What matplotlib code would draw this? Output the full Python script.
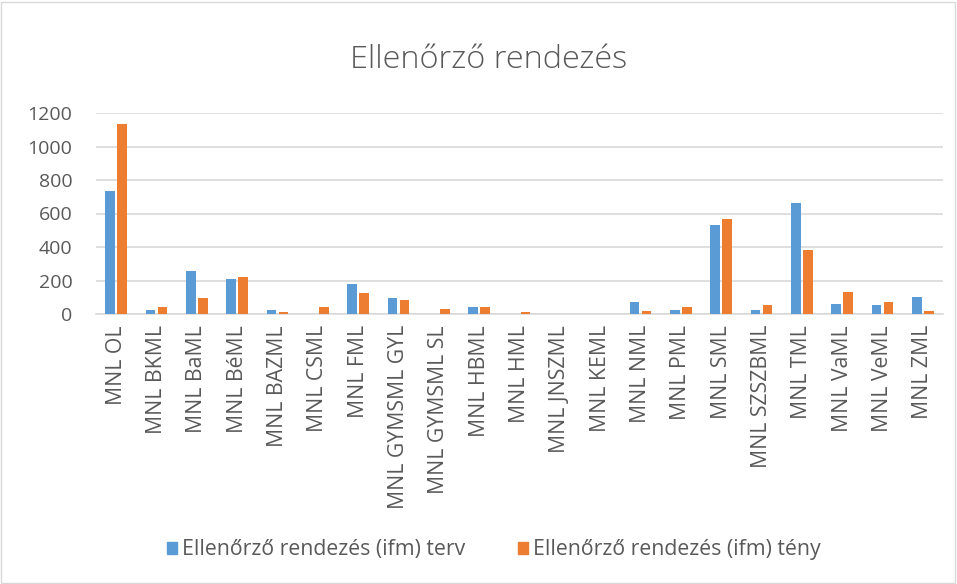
import matplotlib.pyplot as plt
import matplotlib.patches as mpatches
import numpy as np

plt.rcParams['font.family'] = ['Open Sans', 'DejaVu Sans']

kategoriak = ['MNL OL', 'MNL BKML', 'MNL BaML', 'MNL BéML', 'MNL BAZML', 'MNL CSML',
              'MNL FML', 'MNL GYMSML GYL', 'MNL GYMSML SL', 'MNL HBML', 'MNL HML',
              'MNL JNSZML', 'MNL KEML', 'MNL NML', 'MNL PML', 'MNL SML', 'MNL SZSZBML',
              'MNL TML', 'MNL VaML', 'MNL VeML', 'MNL ZML']
terv = [735, 24, 258, 210, 24, 0, 180, 96, 0, 42, 0, 0, 0, 72, 24, 534, 24, 660, 60, 54, 102]
teny = [1135, 42, 96, 222, 12, 42, 126, 84, 30, 42, 12, 0, 0, 18, 42, 570, 54, 384, 132, 72, 18]
y_ticks = [0, 200, 400, 600, 800, 1000, 1200]

KEK = '#5B9BD5'
NARANCS = '#ED7D31'
SZURKE = '#595959'

W, H = 957, 584
fig = plt.figure(figsize=(W / 100, H / 100), dpi=100)
ax = fig.add_axes([96 / W, (H - 314) / H, (943 - 96) / W, (314 - 113) / H])

x = np.arange(len(kategoriak))
ax.bar(x - 0.15, terv, width=0.235, color=KEK, zorder=3)
ax.bar(x + 0.15, teny, width=0.235, color=NARANCS, zorder=3)

ax.set_xlim(-0.5, len(kategoriak) - 0.5)
ax.set_ylim(0, 1200)
ax.set_yticks(y_ticks)
ax.set_yticklabels([str(v) for v in y_ticks], fontsize=14, color=SZURKE)
ax.set_xticks(x)
ax.set_xticklabels(kategoriak, rotation=90, fontsize=15.3, color=SZURKE)
ax.tick_params(length=0, pad=8)
ax.tick_params(axis='y', pad=17)
ax.yaxis.grid(True, color='#D9D9D9', linewidth=1.2, zorder=0)
for s in ['top', 'right', 'left']:
    ax.spines[s].set_visible(False)
ax.spines['bottom'].set_color('#D9D9D9')
ax.spines['bottom'].set_linewidth(1.2)

fig.text(489 / W, 1 - 60 / H, 'Ellenőrző rendezés', ha='center', va='center',
         fontsize=23.4, color=SZURKE, fontweight='light')

kezek = [mpatches.Patch(color=KEK), mpatches.Patch(color=NARANCS)]
fig.legend(kezek, ['Ellenőrző rendezés (ifm) terv', 'Ellenőrző rendezés (ifm) tény'],
           loc='center', bbox_to_anchor=(494 / W, 1 - 550 / H), ncol=2, frameon=False,
           fontsize=15.3, labelcolor=SZURKE, handlelength=0.45, handleheight=0.45,
           columnspacing=2.5, handletextpad=0.25)

fig.patches.append(mpatches.Rectangle((1 / W, 1 / H), 1 - 3 / W, 1 - 3 / H,
                                      transform=fig.transFigure, fill=False,
                                      edgecolor='#D9D9D9', linewidth=1))

fig.savefig('out.png', dpi=100)
